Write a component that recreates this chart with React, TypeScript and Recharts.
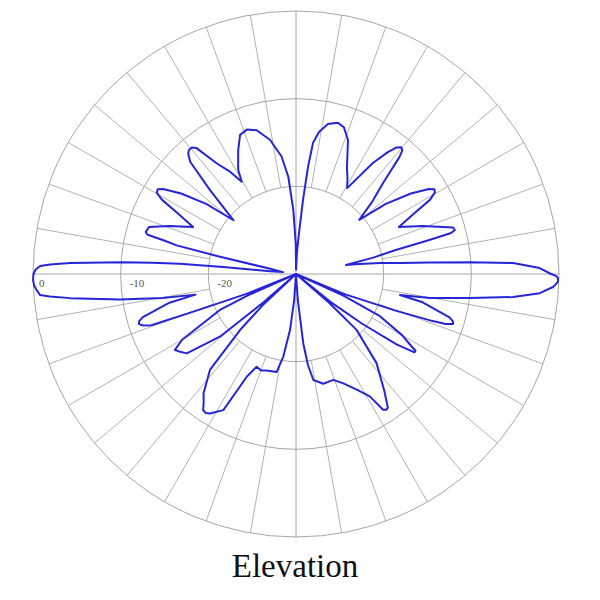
import React from 'react';
import { RadarChart, PolarGrid, PolarAngleAxis, PolarRadiusAxis, Radar } from 'recharts';

// Elevation pattern: angle in degrees (0 = right, counter-clockwise), gain in dB
const angleDeg = [
  0, 1.4, 2.9, 3.9, 4.9, 6, 7.5, 9, 10.2, 12,
  13.5, 14.3, 14.8, 15.5, 16.5, 17.7, 20.7, 24.5, 27, 29,
  30.5, 31.5, 32.6, 35, 38, 40.6, 43.5, 46.3, 48.5, 49.3,
  50.3, 51.6, 53, 55.3, 59.2, 62, 64.5, 68.8, 71.9, 74.5,
  78, 80.8, 82.6, 83.6, 84.6, 85.8, 87.5, 89, 90.5, 92.4,
  94.5, 97, 101, 105.3, 108.8, 111.9, 115, 119, 120.5, 123,
  125.6, 128.3, 129.5, 130.8, 131.9, 133.3, 135.7, 139.3, 142, 145,
  147.4, 148.5, 149.7, 151, 153, 155.5, 159.3, 162.3, 164.4, 165.2,
  165.7, 166.5, 167.2, 168.5, 171.8, 173.8, 174.4, 174.9, 175.5, 176.1,
  177.2, 177.8, 178.2, 179, 180, 181.3, 182.5, 183.5, 184.7, 185.2,
  186.1, 188.2, 190.2, 191.6, 192.8, 195.8, 196.8, 197.7, 198.6, 199.5,
  200.2, 201.8, 203, 204, 205.3, 210, 212.1, 213.5, 216, 219.5,
  221, 222, 223, 225, 228.1, 232.2, 234.4, 235.7, 237, 238.3,
  241.9, 244.4, 247, 250, 253, 258.8, 261.3, 263.9, 266, 268,
  272, 274, 276, 277.5, 279.3, 284, 289.4, 293.4, 298, 301.1,
  302.7, 303.6, 304.5, 307.1, 312.1, 317.3, 319, 320, 321, 323.1,
  325, 326.5, 327.3, 328, 330, 333.4, 335.5, 336.5, 337.5, 339.8,
  341, 341.5, 342.3, 343.2, 344.2, 347.4, 348.6, 349.8, 352.1, 353.95,
  355.5, 357.1, 357.8, 358.3, 358.7, 359.1, 359.6,
];

const gainDb = [
  -0.9, -2.2, -5.2, -10.1, -14.7, -18, -20.3, -22.7, -24.2, -21,
  -18.3, -14.4, -11.7, -11.2, -11.3, -12.4, -14.5, -17.1, -15, -12.5,
  -11.6, -11.5, -12, -14, -17, -20.5, -18, -15.6, -12.2, -11.4,
  -11.2, -11.6, -12.6, -14.6, -18.6, -17.5, -16.5, -13.6, -12.4, -12.1,
  -12.5, -13.6, -14.9, -17.7, -21.5, -25.3, -27.5, -29.5, -26.5, -22.7,
  -18.9, -16.5, -14.4, -13, -12.6, -12.9, -14.4, -16.4, -17.8, -16,
  -14.5, -11.7, -11.3, -11.3, -11.6, -12.4, -16.3, -20.6, -17, -14,
  -12, -11.5, -11.6, -12.5, -15, -17.1, -14.5, -12.4, -12.2, -12.5,
  -14.4, -16, -21, -27, -28.5, -27, -22, -16.7, -13.5, -10.1,
  -4.2, -1.9, -0.8, -0.3, -0.05, 0, -0.1, -0.35, -0.7, -1.8,
  -4.1, -9.7, -14.5, -18.3, -15.2, -11.8, -11.3, -11.2, -11.6, -12.5,
  -17.9, -23.9, -30, -24, -20.4, -15, -13.7, -14, -14.6, -18.8,
  -25, -30, -25, -21, -15.3, -12.8, -11.9, -11.2, -11.1, -11.3,
  -12.4, -17, -18.5, -18.3, -18.5, -18.6, -20.5, -23.6, -27, -30,
  -30, -27, -22, -19.5, -17.75, -17.1, -17.2, -16.4, -15, -13.7,
  -11.6, -11.4, -11.5, -13.3, -16.3, -20.6, -25, -30, -25, -20.5,
  -16, -13.8, -13.8, -14.5, -16, -19.4, -24, -30, -24, -17.9,
  -13.5, -12, -11.2, -11.3, -11.8, -15.2, -17.9, -14.5, -10, -5.1,
  -2.1, -0.65, -0.32, -0.12, -0.1, -0.12, -0.34,
];

const ringTicks = [0, -10, -20];
const spokeAngles = [
  10, 20, 30, 40, 50, 60, 70, 80, 100, 110, 120, 130, 140, 150, 160, 170,
  190, 200, 210, 220, 230, 240, 250, 260, 280, 290, 300, 310, 320, 330, 340, 350,
];
const axisAngles = [0, 90, 180, 270];
const titleText = 'Elevation';

const data = angleDeg.map((a, i) => ({ angle: a, gain: gainDb[i] }));

const W = 584;
const H = 560;
const CX = 288;
const CY = 266;
const R = 263;
const margin = { top: 0, right: 0, bottom: 0, left: 0 };

const RingTick = (props: any) => {
  const { x, y, payload } = props;
  if (payload.value === -30) return null;
  const dx = payload.value === 0 ? 6 : 9;
  return (
    <text
      x={x + dx}
      y={y + 13}
      fontSize={11}
      fontFamily="'Liberation Serif', serif"
      fill="#555"
      textAnchor="start"
    >
      {payload.value}
    </text>
  );
};

export default function App() {
  return (
    <div style={{ position: 'relative', width: W, height: 584, background: '#fff' }}>
      <div style={{ position: 'absolute', left: 0, top: 0 }}>
        <RadarChart
          width={W}
          height={H}
          cx={CX}
          cy={CY}
          innerRadius={R / 3}
          outerRadius={R}
          startAngle={0}
          endAngle={360}
          data={data}
          margin={margin}
        >
          <PolarGrid gridType="circle" polarAngles={spokeAngles} polarRadius={[0]} stroke="#b2b2b2" strokeWidth={1} />
        </RadarChart>
      </div>
      <div style={{ position: 'absolute', left: 0, top: 0 }}>
        <RadarChart
          width={W}
          height={H}
          cx={CX}
          cy={CY}
          innerRadius={0}
          outerRadius={R}
          startAngle={0}
          endAngle={360}
          data={data}
          margin={margin}
        >
          <PolarGrid gridType="circle" polarAngles={axisAngles} stroke="#a6a6a6" strokeWidth={1} />
          <PolarAngleAxis dataKey="angle" type="number" domain={[0, 360]} tick={false} axisLine={false} tickLine={false} />
          <PolarRadiusAxis
            angle={180}
            domain={[-30, 0]}
            ticks={ringTicks as any}
            tick={<RingTick />}
            axisLine={false}
            tickLine={false}
          />
          <Radar
            dataKey="gain"
            stroke="#2626d8"
            strokeWidth={2}
            strokeLinejoin="round"
            fill="none"
            fillOpacity={0}
            dot={false}
            isAnimationActive={false}
          />
        </RadarChart>
      </div>
      <div
        style={{
          position: 'absolute',
          left: 0,
          top: 542,
          width: 574,
          textAlign: 'center',
          fontFamily: "'Liberation Serif', 'Times New Roman', serif",
          fontSize: 33,
          lineHeight: '33px',
          color: '#111',
        }}
      >
        {titleText}
      </div>
    </div>
  );
}
